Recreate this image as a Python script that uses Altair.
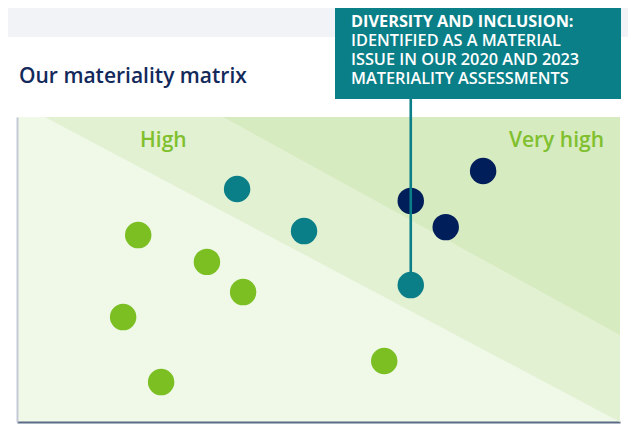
import altair as alt
import pandas as pd

# ---- data ----
names = ["t1", "t2", "t3", "g1", "g2", "g3", "g4", "g5", "g6", "n1", "n2", "n3"]
x_vals = [3.65, 4.76, 6.53, 2.01, 3.15, 3.75, 1.76, 2.39, 6.09, 7.73, 6.53, 7.11]
y_vals = [7.64, 6.26, 4.49, 6.13, 5.25, 4.26, 3.44, 1.31, 2.00, 8.23, 7.25, 6.39]
groups = ["teal", "teal", "teal", "green", "green", "green", "green", "green", "green",
          "navy", "navy", "navy"]
group_order = ["green", "teal", "navy"]
group_colors = ["#7bbf23", "#0a7f88", "#001e5a"]

# band boundaries (x, y at start and end)
band_mid_x = [0.46, 10.0]
band_mid_y = [10.0, 0.0]
band_top_x = [3.42, 10.0]
band_top_y = [10.0, 2.85]

highlight = "t3"
callout_lines = ["DIVERSITY AND INCLUSION:", "IDENTIFIED AS A MATERIAL",
                 "ISSUE IN OUR 2020 AND 2023", "MATERIALITY ASSESSMENTS"]
title_text = "Our materiality matrix"
label_high = "High"
label_very_high = "Very high"

W, H = 603, 305

pts = pd.DataFrame({"name": names, "x": x_vals, "y": y_vals, "group": groups})
mid = pd.DataFrame({"x": band_mid_x, "y": band_mid_y, "y2": [10.0, 10.0]})
top = pd.DataFrame({"x": band_top_x, "y": band_top_y, "y2": [10.0, 10.0]})
hl = pts[pts["name"] == highlight]

xs = alt.Scale(domain=[0, 10], nice=False, zero=False)
ys = alt.Scale(domain=[0, 10], nice=False, zero=False)

xaxis = alt.Axis(domain=True, domainColor="#5a6b88", domainWidth=2.2, ticks=False,
                 labels=False, grid=False, title=None)
yaxis = alt.Axis(domain=True, domainColor="#c3c9d6", domainWidth=2, ticks=False,
                 labels=False, grid=False, title=None)

one = pd.DataFrame({"a": [0]})

# decoration: page background strip above the card
bg = alt.Chart(one).mark_rect(color="#f2f3f7").encode(
    x=alt.value(-12), x2=alt.value(620), y=alt.value(-112), y2=alt.value(-80))

band_mid = alt.Chart(mid).mark_area(color="#e3f1d3", opacity=1).encode(
    x=alt.X("x:Q", scale=xs, axis=xaxis),
    y=alt.Y("y:Q", scale=ys, axis=yaxis),
    y2="y2:Q")
band_top = alt.Chart(top).mark_area(color="#d6ebc0", opacity=1).encode(
    x=alt.X("x:Q", scale=xs), y=alt.Y("y:Q", scale=ys), y2="y2:Q")

points = alt.Chart(pts).mark_circle(size=700, opacity=1).encode(
    x=alt.X("x:Q", scale=xs),
    y=alt.Y("y:Q", scale=ys),
    color=alt.Color("group:N", scale=alt.Scale(domain=group_order, range=group_colors),
                    legend=None))

box = alt.Chart(one).mark_rect(color="#0a7f88").encode(
    x=alt.value(318), x2=alt.value(604), y=alt.value(-125), y2=alt.value(-18))

rule = alt.Chart(hl).mark_rule(color="#0a7f88", strokeWidth=2.6).encode(
    x=alt.X("x:Q", scale=xs), y=alt.Y("y:Q", scale=ys), y2=alt.value(-18))

text_layers = []
for i, line in enumerate(callout_lines):
    text_layers.append(
        alt.Chart(pd.DataFrame({"t": [line]})).mark_text(
            align="left", baseline="alphabetic", font="Open Sans", fontSize=16.3,
            fontWeight="bold" if i == 0 else 600, color="white"
        ).encode(x=alt.value(334), y=alt.value(-90 + 19 * i), text="t:N")
    )

title = alt.Chart(pd.DataFrame({"t": [title_text]})).mark_text(
    align="left", baseline="alphabetic", font="Open Sans", fontSize=21, fontWeight=600,
    color="#13295b").encode(x=alt.value(2), y=alt.value(-34), text="t:N")

hi = alt.Chart(pd.DataFrame({"t": [label_high]})).mark_text(
    align="left", baseline="alphabetic", font="Open Sans", fontSize=21, fontWeight=600,
    color="#80c02e").encode(x=alt.value(123), y=alt.value(30), text="t:N")

vhi = alt.Chart(pd.DataFrame({"t": [label_very_high]})).mark_text(
    align="right", baseline="alphabetic", font="Open Sans", fontSize=21, fontWeight=600,
    color="#80c02e").encode(x=alt.value(587), y=alt.value(30), text="t:N")

chart = alt.layer(bg, band_mid, band_top, points, rule, box, *text_layers, title, hi, vhi).properties(
    width=W, height=H,
    autosize=alt.AutoSizeParams(type="none"),
    padding={"left": 9, "top": 109, "right": 8, "bottom": 6},
    background="white",
).configure_view(fill="#f0f8e8", stroke=None)

chart.save("out.html", embed_options={"renderer": "svg", "actions": False})
